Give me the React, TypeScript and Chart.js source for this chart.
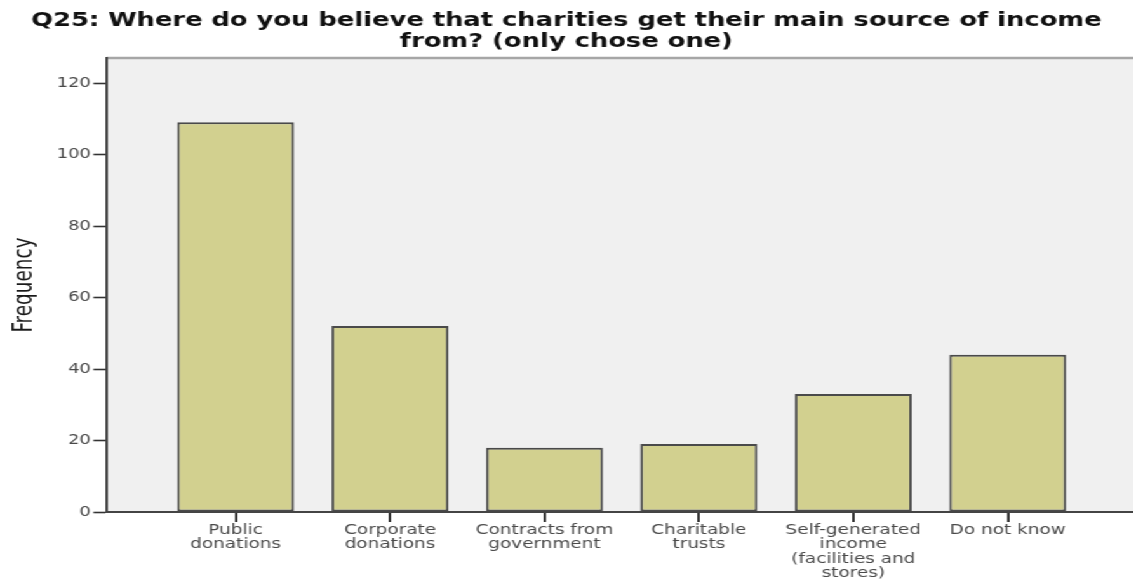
import React, { useEffect, useRef } from "react";
import { Chart, registerables } from "chart.js";

Chart.register(...registerables);

const chartTitle = [
  "Q25: Where do you believe that charities get their main source of income",
  "from? (only chose one)",
];
const categories = [
  "Public donations",
  "Corporate donations",
  "Contracts from government",
  "Charitable trusts",
  "Self-generated income (facilities and stores)",
  "Do not know",
];
const categoryLines: string[][] = [
  ["Public", "donations"],
  ["Corporate", "donations"],
  ["Contracts from", "government"],
  ["Charitable", "trusts"],
  ["Self-generated", "income", "(facilities and", "stores)"],
  ["Do not know"],
];
const frequencies = [109, 52, 18, 19, 33, 44];
const yTicks = [0, 20, 40, 60, 80, 100, 120];
const yTitle = "Frequency";

const STRETCH = 1.27;
const CW = Math.round(1133 / STRETCH);
const CH = 579;

const plotBg = {
  id: "plotBg",
  beforeDraw(chart: any) {
    const { ctx, chartArea: a } = chart;
    ctx.save();
    ctx.fillStyle = "#F0F0F0";
    ctx.fillRect(a.left, a.top, a.right - a.left, a.bottom - a.top);
    ctx.strokeStyle = "#A6A6A6";
    ctx.lineWidth = 2.5;
    ctx.beginPath();
    ctx.moveTo(a.left, a.top);
    ctx.lineTo(a.right, a.top);
    ctx.stroke();
    ctx.restore();
  },
};

export default function App() {
  const ref = useRef<HTMLCanvasElement | null>(null);
  useEffect(() => {
    if (!ref.current) return;
    const chart = new Chart(ref.current, {
      type: "bar",
      data: {
        datasets: [
          {
            label: yTitle,
            data: frequencies.map((v, i) => ({ x: i, y: v })),
            backgroundColor: "#D2D08F",
            borderColor: "#4A4A4A",
            borderWidth: 2,
            borderSkipped: false,
            barPercentage: 0.757,
            categoryPercentage: 1,
          },
        ],
      },
      options: {
        responsive: false,
        animation: false,
        layout: { padding: 0 },
        plugins: {
          legend: { display: false },
          tooltip: { enabled: false },
          title: {
            display: true,
            text: chartTitle,
            color: "#111",
            font: { family: "DejaVu Sans", weight: "bold", size: 20.3, lineHeight: 1.01 },
            padding: { top: 10.5, bottom: 6.5 },
          },
        },
        scales: {
          x: {
            type: "linear",
            offset: false,
            min: -0.835,
            max: 5.81,
            afterBuildTicks: (scale: any) => {
              scale.ticks = categories.map((_, i) => ({ value: i }));
            },
            afterFit: (scale: any) => {
              scale.height = CH - 512;
            },
            ticks: {
              autoSkip: false,
              maxRotation: 0,
              minRotation: 0,
              padding: 1,
              color: "#4A4A4A",
              font: { family: "DejaVu Sans", size: 14.5, lineHeight: 0.99 },
              callback: (v: any) => {
                const i = Math.round(Number(v));
                return categoryLines[i] ?? "";
              },
            },
            grid: {
              display: true,
              offset: false,
              drawOnChartArea: false,
              drawTicks: true,
              tickLength: 10,
              lineWidth: 2,
              color: "#333",
              tickColor: "#333",
              tickWidth: 2,
            },
            border: { display: true, color: "#444", width: 2 },
          },
          y: {
            min: 0,
            max: 127,
            afterBuildTicks: (scale: any) => {
              scale.ticks = yTicks.map((v) => ({ value: v }));
            },
            afterFit: (scale: any) => {
              scale.width = 84;
            },
            ticks: {
              padding: 2,
              color: "#4A4A4A",
              font: { family: "DejaVu Sans", size: 14 },
            },
            grid: {
              drawOnChartArea: false,
              drawTicks: true,
              tickLength: 10.5,
              tickColor: "#333",
              tickWidth: 1.6,
            },
            border: { display: true, color: "#444", width: 2 },
            title: {
              display: true,
              text: yTitle,
              color: "#1A1A1A",
              font: { family: "DejaVu Sans Condensed", size: 20.5, lineHeight: 1 },
              padding: { top: 9.5, bottom: 0 },
            },
          },
        },
      },
      plugins: [plotBg],
    });
    return () => chart.destroy();
  }, []);

  return (
    <div
      style={{
        position: "fixed",
        left: 0,
        top: 0,
        width: CW,
        height: CH,
        transform: `scaleX(${STRETCH})`,
        transformOrigin: "0 0",
        background: "#fff",
      }}
    >
      <canvas ref={ref} width={CW} height={CH} style={{ width: CW, height: CH, display: "block" }} />
    </div>
  );
}
